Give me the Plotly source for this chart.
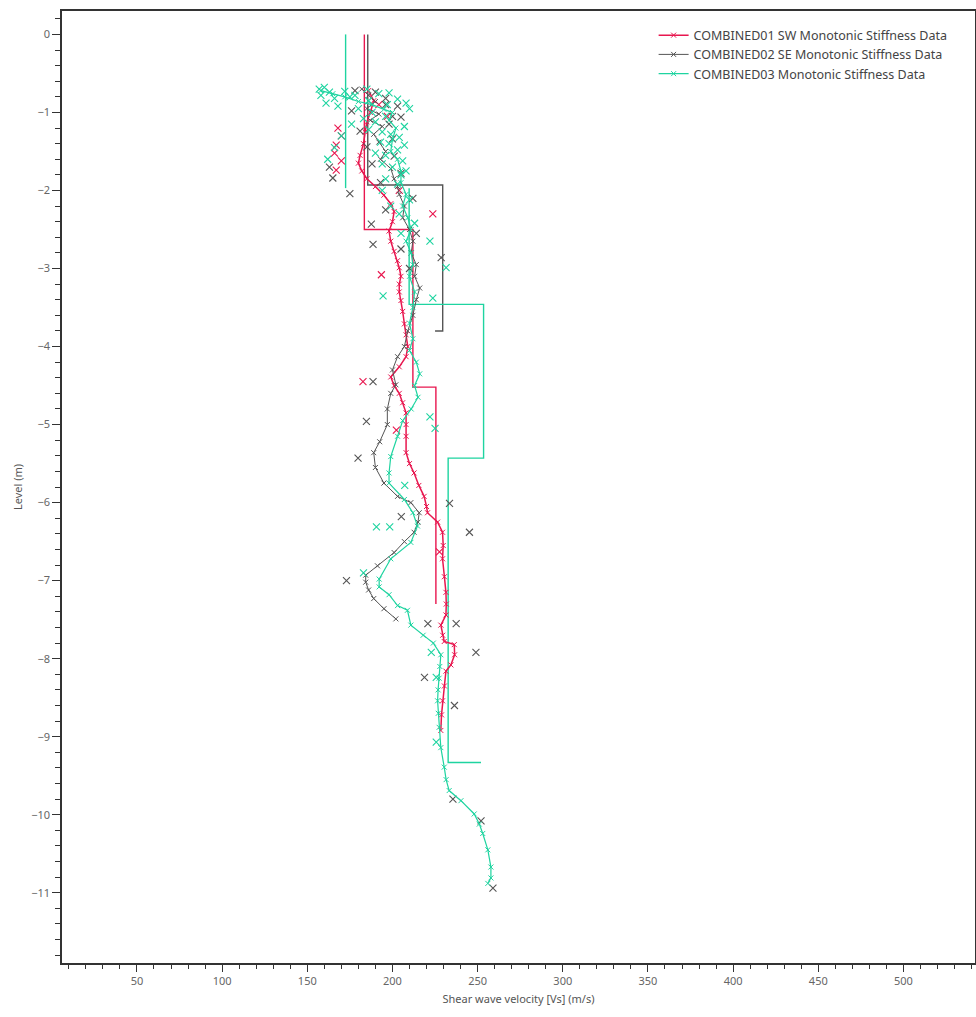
import plotly.graph_objects as go

# ---------------- data ----------------
series_names = [
    "COMBINED01 SW Monotonic Stiffness Data",
    "COMBINED02 SE Monotonic Stiffness Data",
    "COMBINED03 Monotonic Stiffness Data",
]

# COMBINED01 SW - profile line
red_level = [-0.72, -0.85, -1.0, -1.12, -1.25, -1.4, -1.55, -1.65, -1.75, -1.85,
             -1.95, -2.06, -2.17, -2.27, -2.4, -2.52, -2.65, -2.78, -2.9, -2.99,
             -3.1, -3.2, -3.3, -3.41, -3.55, -3.71, -3.85, -4.0, -4.13, -4.26,
             -4.39, -4.5, -4.6, -4.72, -4.85, -5.0, -5.15, -5.36, -5.5, -5.62,
             -5.78, -5.92, -6.05, -6.13, -6.25, -6.38, -6.55, -6.72, -6.95, -7.15,
             -7.3, -7.44, -7.57, -7.7, -7.78, -7.82, -7.95, -8.08, -8.16, -8.35,
             -8.54, -8.72, -8.92]
red_vs = [186, 189, 187, 185, 184, 183, 181, 180, 182, 185,
          190, 195, 199, 201, 200, 198, 199, 201, 203, 204,
          205, 204, 204, 205, 206, 207, 208, 209, 208, 204,
          199, 201, 204, 206, 208, 208, 208, 208, 210, 212.7,
          215.5, 218.6, 220, 220.6, 226.5, 229.4, 229.8, 229.4, 230.5, 231.4,
          231.6, 231.4, 228.4, 229.5, 230.4, 236.3, 236.5, 234.3, 231.4, 230.5,
          229.4, 228.8, 228.4]
red_pts_level = [-1.2, -1.3, -1.42, -1.52, -1.62, -1.74, -3.08, -4.45, -5.07, -6.63, -2.3,
                 -0.9, -1.05, -2.0]
red_pts_vs = [168, 170, 167, 166, 170, 167, 193.5, 182.7, 202.3, 227.6, 223.7,
              192, 197, 204]
red_step_level = [0, -2.5, -2.5, -4.52, -4.52, -7.3]
red_step_vs = [183.5, 183.5, 212, 212, 225.5, 225.5]

# COMBINED02 SE - profile line
grey_level = [-0.70, -0.78, -0.86, -0.95, -1.02, -1.1, -1.18, -1.28, -1.38, -1.5,
              -1.6, -1.72, -1.85, -1.95, -2.05, -2.2, -2.35, -2.5, -2.65, -2.8,
              -2.95, -3.1, -3.25, -3.4, -3.6, -3.8, -4.0, -4.13, -4.3, -4.49,
              -4.6, -4.8, -5.0, -5.22, -5.36, -5.55, -5.75, -5.92, -6.0, -6.13,
              -6.25, -6.38, -6.5, -6.64, -6.81, -6.93, -7.02, -7.12, -7.23, -7.36,
              -7.49]
grey_vs = [182, 186, 190, 185, 192, 187, 194, 189, 192, 196,
           193, 199, 201, 203, 204, 207, 206, 210, 212, 211,
           214, 213, 216, 214, 212, 209, 207, 203, 200, 202,
           199, 197, 197, 192.5, 189, 190, 195, 203, 210.8, 215.7,
           215, 212.7, 207, 201, 191.2, 184.3, 184.3, 186, 189, 195,
           202]
grey_pts_level = [-0.72, -0.9, -1.05, -1.7, -1.84, -2.04, -2.43, -2.69, -2.86, -4.45,
                  -4.96, -5.43, -6.18, -6.01, -7.0, -7.55, -7.55, -7.92, -8.24, -8.6,
                  -9.8, -10.08, -10.94, -6.38,
                  -0.74, -0.82, -0.92, -0.98, -1.06, -1.15, -1.24, -1.34, -1.44, -1.56,
                  -1.66, -1.78, -1.9, -2.1, -2.25, -2.55, -2.75, -3.0]
grey_pts_vs = [178, 196, 200, 163, 165, 175, 187.6, 188.6, 228.6, 188.6,
               184.7, 179.8, 205.2, 233.5, 173, 220.8, 237.4, 249, 218.8, 236.4,
               235.5, 252, 259, 245.2,
               190, 196, 203, 176, 205, 198, 181, 200, 185, 201,
               188, 205, 193, 212, 196, 214, 205, 210]
grey_step_level = [0, -1.93, -1.93, -3.8, -3.8]
grey_step_vs = [185.5, 185.5, 229.5, 229.5, 225]

# COMBINED03 - profile line
teal_level = [-0.72, -0.76, -0.8, -0.86, -0.9, -0.96, -1.0, -1.1, -1.2, -1.35,
              -1.5, -1.6, -1.75, -1.9, -2.05, -2.2, -2.35, -2.5, -2.65, -2.8,
              -2.95, -3.1, -3.3, -3.5, -3.7, -3.9, -4.05, -4.2, -4.35, -4.5,
              -4.65, -4.8, -4.95, -5.15, -5.41, -5.62, -5.75, -5.96, -6.13, -6.3,
              -6.51, -6.72, -6.98, -7.08, -7.18, -7.32, -7.38, -7.57,
              -7.7, -7.8,
              -7.95, -8.1, -8.25, -8.4, -8.54, -8.7, -8.88, -9.14, -9.39, -9.55,
              -9.69, -9.82, -9.99, -10.12, -10.24, -10.45, -10.67, -10.81, -10.88]
teal_vs = [158, 165, 172, 180, 188, 195, 200, 198, 202, 200,
           199, 203, 205, 205, 208, 206, 209, 211, 208, 211,
           212, 210, 213, 212, 210, 212, 210, 214, 216, 213,
           215, 211, 206, 203, 199, 198, 198, 207, 212, 214.7,
           210.8, 199, 192.2, 192.2, 198, 203, 208.8, 210.8,
           218, 224,
           228.4, 227.8, 227.4, 226.8, 226.5, 226.9, 227.4, 228.4, 230.4, 231.5,
           233.3, 240.2, 248, 251, 253, 256, 257.8, 257.8, 256]
teal_pts_level = [-0.70, -0.74, -0.78, -0.82, -0.88, -0.92, -0.80, -0.95, -0.85, -0.76,
                  -0.9, -1.05, -1.12, -1.25, -1.32, -1.4, -1.48, -1.55, -1.62, -1.7,
                  -1.8, -1.15, -1.3, -1.45, -1.6, -2.65, -2.99, -3.38, -3.35, -4.9,
                  -5.05, -5.78, -6.31, -6.31, -7.92, -8.24, -9.07, -6.9,
                  -0.68, -0.73, -0.78, -0.70, -0.75, -0.83, -0.88, -0.95, -1.0, -1.08,
                  -1.18, -1.22, -1.28, -1.38, -1.42, -1.52, -1.66, -1.75, -1.85, -1.92,
                  -2.0, -2.12, -2.2, -2.3, -2.42, -2.55]
teal_pts_vs = [157, 163, 158, 166, 161, 168, 175, 180, 186, 192,
               197, 196, 190, 194, 204, 198, 203, 196, 206, 200,
               205, 176, 170, 166, 162, 222, 231.5, 223.7, 194.5, 222,
               225, 207.2, 190.6, 198.4, 222.8, 225.7, 225.7, 183,
               160, 172, 178, 185, 198, 203, 208, 210, 188, 183,
               207, 186, 199, 193, 207, 190, 194, 208, 196, 203,
               194, 210, 199, 204, 213, 205]
teal_step_level = [0, -1.97, None, -1.97, -3.46, -3.46, -5.43, -5.43, -9.33, -9.33]
teal_step_vs = [172.5, 172.5, None, 209.8, 209.8, 253.5, 253.5, 232.7, 232.7, 252]

# ---------------- styling ----------------
RED = "#e8174f"
GREY = "#555555"
TEAL = "#1ed4a0"
FONT = "Noto Sans"

fig = go.Figure()

groups = [
    (series_names[0], RED, red_vs, red_level, red_pts_vs, red_pts_level, red_step_vs, red_step_level, 1.5),
    (series_names[1], GREY, grey_vs, grey_level, grey_pts_vs, grey_pts_level, grey_step_vs, grey_step_level, 1.0),
    (series_names[2], TEAL, teal_vs, teal_level, teal_pts_vs, teal_pts_level, teal_step_vs, teal_step_level, 1.2),
]

for name, col, vs, lv, pvs, plv, svs, slv, lw in groups:
    # design step profile
    fig.add_trace(go.Scatter(x=svs, y=slv, mode="lines", showlegend=False,
                             line=dict(color=col, width=1.4), hoverinfo="skip",
                             connectgaps=False))
for name, col, vs, lv, pvs, plv, svs, slv, lw in groups:
    fig.add_trace(go.Scatter(x=pvs, y=plv, mode="markers", showlegend=False,
                             marker=dict(symbol="x-thin", size=7,
                                         line=dict(color=col, width=1.1))))
    fig.add_trace(go.Scatter(x=vs, y=lv, mode="lines+markers", name=name,
                             line=dict(color=col, width=lw),
                             marker=dict(symbol="x-thin", size=5,
                                         line=dict(color=col, width=1))))

axis_common = dict(
    showline=True, linecolor="#333333", linewidth=1.5, mirror=True,
    ticks="outside", tickcolor="#333333", showgrid=False, zeroline=False,
    tickfont=dict(family=FONT, size=11, color="#666666"),
)

fig.update_xaxes(
    **axis_common, range=[6, 542], tick0=0, dtick=50, ticklen=7, tickwidth=1.2,
    minor=dict(tick0=0, dtick=10, ticks="outside", ticklen=4, tickcolor="#333333", showgrid=False),
    title=dict(text="Shear wave velocity [Vs] (m/s)", font=dict(family=FONT, size=11, color="#555555"), standoff=8),
    automargin=False,
)
fig.update_yaxes(
    **axis_common, range=[-11.9, 0.3], tick0=0, dtick=1, ticklen=8, tickwidth=1.2,
    minor=dict(tick0=0, dtick=0.2, ticks="outside", ticklen=5, tickcolor="#333333", showgrid=False),
    title=dict(text="Level (m)", font=dict(family=FONT, size=11, color="#555555"), standoff=6),
    automargin=False,
)

fig.update_layout(
    width=976, height=1017,
    margin=dict(l=62, r=1, t=11, b=54),
    plot_bgcolor="white", paper_bgcolor="white",
    font=dict(family=FONT, size=11, color="#555555"),
    legend=dict(x=0.648, y=0.99, xanchor="left", yanchor="top",
                bgcolor="rgba(255,255,255,0)", itemwidth=30,
                font=dict(family=FONT, size=12.5, color="#444444"),
                tracegroupgap=0),
    showlegend=True,
)

fig.write_html("out.html")
